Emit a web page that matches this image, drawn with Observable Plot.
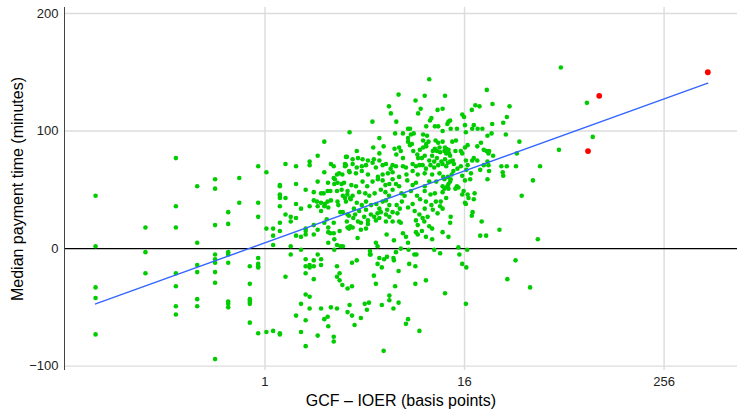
<!DOCTYPE html>
<html><head><meta charset="utf-8">
<script src="https://cdn.jsdelivr.net/npm/d3@7"></script>
<script src="https://cdn.jsdelivr.net/npm/@observablehq/plot@0.6"></script>
<style>
html,body{margin:0;padding:0;background:#fff}
svg{font-family:"Liberation Sans",Arial,Helvetica,sans-serif}
</style>
</head><body><div id="chart"></div>
<script>
// GCF - IOER (bp), median payment time (minutes)
const points = [
[0.095,45],[0.095,2],[0.095,-33],[0.095,-42],[0.095,-73],
[0.19,18],[0.19,-3],[0.19,-21],
[0.29,77],[0.29,36],[0.29,18],[0.29,-21],[0.29,-32],[0.29,-49],[0.29,-56],
[0.39,53],[0.39,5],[0.39,-14],[0.39,-20],[0.39,-43],[0.39,-49],
[0.5,59],[0.5,51],[0.5,20],[0.5,-5],[0.5,-9],[0.5,-12],[0.5,-20],[0.5,-29],[0.5,-94],
[0.6,31],[0.6,21],[0.6,-3],[0.6,-5],[0.6,-12],[0.6,-45],[0.6,-47],[0.6,-50],
[0.7,60],[0.7,39],
[0.81,-15],[0.81,-30],[0.81,-43],[0.81,-45],[0.81,-47],[0.81,-63],
[0.91,70],[0.91,39],[0.91,27],[0.91,-8],[0.91,-13],[0.91,-15],[0.91,-16],[0.91,-72],
[1.02,65],[1.02,17],[1.02,-71],
[1.12,17],[1.12,11],[1.12,3],[1.12,-70],
[1.23,54],[1.23,53],[1.23,46],[1.23,45],[1.23,43],[1.23,36],[1.23,22],[1.23,15],[1.23,-72],[1.23,-73],
[1.33,72],[1.33,43],[1.33,29],[1.33,-24],
[1.43,27],[1.43,23],[1.43,2],[1.43,-5],
[1.54,70],[1.54,55],[1.54,38],[1.54,26],[1.54,11],[1.54,-57],
[1.65,34],[1.65,10],[1.65,-1],[1.65,-47],[1.65,-71],
[1.76,50],[1.76,17],[1.76,15],[1.76,12],[1.76,-9],[1.76,-15],[1.76,-21],[1.76,-39],[1.76,-61],[1.76,-83],
[1.86,74],[1.86,71],[1.86,36],[1.86,-14],[1.86,-16],[1.86,-41],[1.86,-51],
[2.08,79],[2.28,91],[3.24,99],[2.5,72],[2.6,70],[2.28,65],[2.08,57],[1.97,48],[2.18,47],[2.26,47],[2.39,49],[2.48,49],
[2.4,56],[2.6,60],[2.64,59],[2.72,63],[2.8,64],[2.93,63],[3.04,72],[3.04,70],[3.12,78],[3.24,65],[2.62,55],[2.74,56],
[2.9,55],[3.0,56],[2.72,49],[2.9,50],[3.15,49],[2.95,45],[3.04,43],[3.27,43],
[1.97,41],[2.06,40],[2.18,39],[2.3,38],[2.39,40],[2.5,41],
[2.08,36],[2.28,36],[2.41,35],[2.74,40],[2.77,37],[2.85,31],
[1.97,20],[1.97,12],[2.08,16],[2.18,32],
[2.28,22],[2.36,25],[2.41,18],[2.41,14],[2.48,13],[2.6,13],[2.6,22],
[2.41,5],[2.62,8],[2.72,3],[2.85,2],[2.95,2],
[2.82,15],[2.95,31],[3.12,23],[3.15,18],[3.27,19],[3.21,28],
[2.62,-1],
[1.97,-10],[1.97,-15],[2.08,-5],[2.18,-9],[2.18,-14],[1.97,-26],
[2.72,-15],[2.82,-21],[2.72,-24],[2.82,-27],[2.93,-31],[3.15,-34],
[2.18,-51],[2.5,-50],[2.72,-51],[3.24,-48],
[2.28,-60],[2.39,-58],[2.41,-66],[3.15,-54],
[2.08,-74],[2.6,-75],[2.6,-79],
[9.8,144],[6.4,131],[9.2,130],[12.2,130],[8.1,126],[5.6,121],[5.75,115],[8.7,119],[8.4,115],[11.0,118],[11.8,119],
[4.45,108],[6.2,108],[10.1,111],[9.9,109],
[9.4,104],[10.6,104],[11.1,104],[11.8,100],[6.1,98],[6.8,98],[7.3,102],[7.5,102],[7.9,98],[7.6,97],[9.0,97],[9.5,96],
[4.9,94],[4.5,86],[5.2,87],
[7.3,94],[7.3,91],[7.7,89],[7.5,88],[9.0,92],[9.4,89],[9.4,87],[9.0,86],[9.7,91],
[10.7,92],[11.1,90],[11.3,86],[10.6,85],[10.3,83],[10.9,83],[11.4,82],[11.8,91],[12.2,86],
[3.58,83],[4.9,81],[6.05,85],[6.45,86],[6.6,83],[6.2,80],[6.8,77],
[7.85,83],[8.3,80],[8.6,84],[8.4,77],[8.85,77],[9.2,79],[9.8,75],[10.2,79],[10.5,74],[10.9,77],[11.6,74],[12.2,76],
[3.08,78],[3.38,76],[3.64,77],[3.88,76],[4.18,75],[4.54,76],[4.9,75],
[3.08,71],[3.38,72],[3.58,69],[3.84,70],[4.07,71],[4.46,73],[4.67,69],[5.13,71],[5.37,72],[5.73,68],[5.89,71],[6.17,70],
[6.8,70],[7.09,69],[7.78,72],[8.15,70],[8.55,71],[8.94,71],[9.36,68],[9.97,71],[10.5,69],[11.1,71],[11.8,72],[12.4,70],
[3.22,66],[3.54,64],[3.84,66],[4.18,63],[4.8,61],[5.13,63],[5.52,64],[5.89,65],[6.45,61],[7.14,63],[7.78,66],[8.35,63],
[9.2,64],[10.2,63],[11.3,64],[11.9,61],
[3.32,54],[3.54,53],[3.88,57],[4.14,53],[4.46,57],[4.8,59],[5.13,58],[5.33,54],[5.63,55],[5.89,59],[6.17,55],[6.45,53],
[7.22,58],[7.78,54],[8.15,56],[9.2,53],[9.8,57],[10.8,57],[11.8,53],
[3.14,46],[3.38,45],[3.7,48],[4.03,47],[4.26,45],[4.59,47],[5.0,50],[5.33,48],[5.6,45],[5.89,50],[6.66,47],[6.96,45],
[7.6,49],[8.27,45],[9.2,49],[9.97,46],[10.6,47],[11.8,48],
[3.08,40],[3.29,42],[3.58,39],[3.84,37],[4.07,40],[4.37,37],[4.7,38],[5.13,40],[5.37,41],[5.63,37],[6.23,37],[6.7,40],
[7.3,35],[7.78,38],[8.63,42],[9.36,40],[10.1,37],[10.75,40],[11.4,36],[12.4,43],
[3.44,34],[3.7,32],[4.07,33],[4.9,34],[5.46,33],[6.51,34],[8.0,32],[9.2,34],[10.3,33],[11.8,34],
[3.15,29],[3.41,26],[3.5,29],[3.64,23],[3.79,22],[3.97,27],[4.18,24],[4.18,21],[4.36,29],[4.56,27],[4.67,24],[4.78,30],
[4.9,26],[5.0,31],[5.37,29],[5.37,23],[5.63,27],[5.89,31],[5.89,23],[6.3,30],[6.45,23],[6.6,22],
[8.15,24],[8.35,20],[8.55,29],[8.94,26],[9.15,23],[9.58,27],[9.8,19],[10.2,17],[11.0,30],
[3.22,17],[3.38,18],[3.79,16],[4.07,17],[3.62,9],[5.42,12],[6.0,7],[6.8,13],[7.09,10],[7.3,5],[8.15,14],[8.35,12],
[8.85,15],[9.36,10],[10.2,8],[11.8,14],[4.67,5],[4.78,2],[4.3,-2],[4.3,-5],
[3.35,-12],[3.58,-10],[4.34,-5],[4.78,-13],[4.9,-8],[5.07,-16],[5.23,-9],[5.45,-7],[5.96,-8],[6.0,-10],[6.17,-3],[6.6,0],
[7.35,-1],[7.42,-13],[7.97,-5],[8.08,-15],[8.2,-5],[6.4,-19],[4.54,-23],[4.67,-30],[6.1,-32],[8.08,-30],[9.36,-27],
[10.5,-1],[11.4,-4],[3.35,-32],
[3.35,-57],[3.47,-65],[3.79,-59],[4.0,-47],[4.24,-46],[4.12,-52],[5.07,-48],[5.63,-40],[5.63,-44],[5.96,-51],[6.4,-46],
[7.3,-60],[7.09,-64],[8.55,-70],[5.2,-87],[12.2,-38],
[21.8,135],[18.6,122],[19.7,121],[23.6,123],[29.9,121],[17.7,118],[28.8,112],[27.4,107],[15.5,114],[15.9,112],
[12.8,108],[13.1,109],[12.6,106],[16.1,105],[18.2,105],[19.2,102],[20.5,102],[17.8,102],[23.5,106],
[13.2,102],[14.4,102],[16.3,99],[22,96],[23.3,98],[28.4,97],[34.3,91],[13.5,91],[14.2,92],[16.7,88],[19.1,87],[20.1,90],
[12.1,83],[12.4,85],[12.8,84],[12.4,81],[12.9,81],[13.1,79],
[14.1,83],[15.2,83],[15.5,81],[16.1,86],[20.9,84],[21.7,83],[22.5,83],[22.3,81],[23.8,79],[33.1,81],
[19.1,75],[18.2,77],[17.8,75],[13.6,75],[13.1,74],[12.7,73],[13.8,72],
[16.3,75],[16.7,71],[15.2,70],[14.5,68],[13.7,66],[13.4,63],[12.7,61],[12.1,59],[13.2,59],[15.5,62],[16.1,58],[17.3,59],
[19.9,67],[20.9,71],[22.5,66],[22,74],[22.3,71],[26.7,70],[28.8,70],[32.7,70],[27.2,65],[27.4,62],[22,59],
[45.7,70],[41.4,58],[35.4,45],[18.4,47],[16.1,39],[16.7,46],[15.8,49],[15.5,46],[14.4,53],[14.7,52],[14.1,51],
[13.1,57],[12.8,51],[12.6,53],[12.1,51],[12.8,55],[11.5,40],[18.2,42],[16.3,38],[17.5,64],[16.4,67],[16.9,43],
[13.2,27],[13.1,22],[17.9,31],[17.7,28],[20.3,23],[26,16],[19.9,11],[21.6,11],[12.8,10],[44.3,8],[14.7,1],
[14.9,-5],[15.5,-13],[16.4,-16],[16.6,-1],[32.5,-10],[29,-26],[39.8,-33],[16.3,-47],
[61,154],[87.6,124],[95,95],[59.4,84]
];
// highlighted observations (red)
const outliers = [[104,130],[89,83],[470,150]];

// fitted line: y = intercept + slope * log2(x), drawn over the data range
const fitIntercept = 4.9;
const fitSlope = 15.3;
const fitRange = [0.095, 470];

const xTicks = [1, 16, 256];
const yTicks = [-100, 0, 100, 200];
const yGrid = [-100, 100, 200];
const xLabel = "GCF – IOER (basis points)";
const yLabel = "Median payment time (minutes)";

const fitLine = fitRange.map(x => ({x, y: fitIntercept + fitSlope * Math.log2(x)}));
const fmt = d => d < 0 ? "\u2212" + Math.abs(d) : String(d);

const chart = Plot.plot({
  width: 737, height: 409,
  marginLeft: 64, marginRight: 0, marginTop: 7, marginBottom: 39,
  style: {fontFamily: "'Liberation Sans', Arial, Helvetica, sans-serif", background: "#fff", overflow: "visible"},
  x: {type: "log", base: 2, domain: [0.0617, 710]},
  y: {domain: [-103.7, 205.1]},
  marks: [
    Plot.gridX(xTicks, {stroke: "#dcdcdc", strokeOpacity: 1, strokeWidth: 1.4}),
    Plot.gridY(yGrid, {stroke: "#dcdcdc", strokeOpacity: 1, strokeWidth: 1.4}),
    Plot.ruleY([0], {stroke: "#000", strokeWidth: 1.2}),
    Plot.dot(points, {x: d => d[0], y: d => d[1], r: 2.3, fill: "#00cc00", stroke: null}),
    Plot.line(fitLine, {x: "x", y: "y", stroke: "#3366ff", strokeWidth: 1.4}),
    Plot.dot(outliers, {x: d => d[0], y: d => d[1], r: 2.9, fill: "#ff0000", stroke: null}),
    Plot.ruleX([0.0617], {stroke: "#444", strokeWidth: 1}),
    Plot.axisX(xTicks, {tickSize: 0, tickPadding: 6, fontSize: 13, fill: "#222", label: null, tickFormat: fmt}),
    Plot.axisY(yTicks, {tickSize: 0, tickPadding: 6, fontSize: 13, fill: "#222", label: null, tickFormat: fmt}),
    Plot.text([xLabel], {frameAnchor: "bottom", dy: 30, fontSize: 16, fill: "#000", textAnchor: "middle", lineAnchor: "middle"}),
    Plot.text([yLabel], {frameAnchor: "left", dx: -47, rotate: -90, fontSize: 16, fill: "#000", textAnchor: "middle", lineAnchor: "middle"})
  ]
});
document.getElementById("chart").appendChild(chart);
</script>
</body></html>
